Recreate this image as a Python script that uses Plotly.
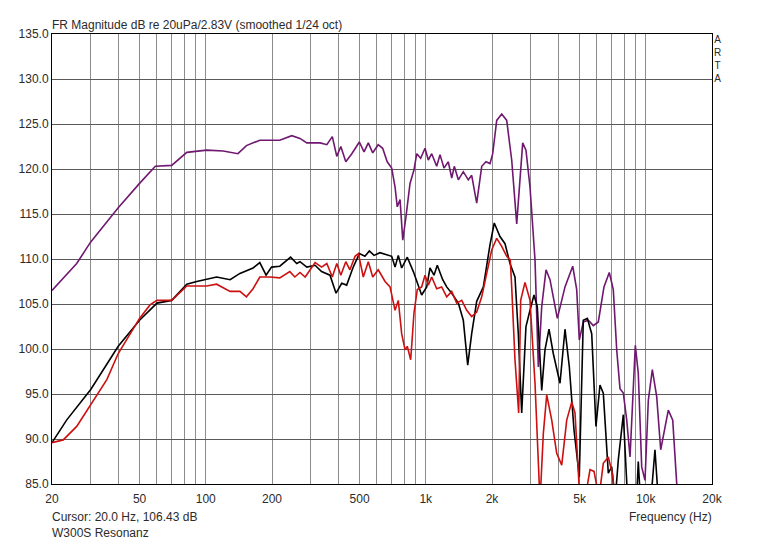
import plotly.graph_objects as go

# ARTA frequency response, W300S woofer
purple_freq = [20, 25.9, 30, 40, 50, 59, 70, 82, 101, 120, 140, 153, 176, 217, 246, 268, 288,
               331, 355, 376, 394, 411, 433, 461, 499, 524, 548, 574, 608, 637, 668, 700, 725,
               742, 764, 786, 813, 848, 884, 910, 948, 992, 1027, 1064, 1121, 1161, 1210, 1266,
               1312, 1348, 1406, 1481, 1561, 1617, 1704, 1796, 1878, 1959, 2015, 2101, 2214,
               2333, 2458, 2590, 2758, 2854, 2977, 3137, 3248, 3365, 3520, 3670, 3963, 4294,
               4655, 4853, 4987, 5200, 5480, 5774, 6084, 6457, 6827, 7118, 7377, 7636, 7906,
               8193, 8481, 8722, 8964, 9247, 9583, 9921, 10270, 10710, 11210, 11690, 12100,
               12660, 13260, 13820, 14310]
purple_db = [106.5, 109.5, 111.9, 115.7, 118.4, 120.3, 120.4, 121.85, 122.1, 122.0, 121.7, 122.6,
             123.2, 123.2, 123.7, 123.4, 122.9, 122.9, 122.7, 123.6, 121.4, 122.5, 120.8, 121.7,
             123.0, 121.9, 122.9, 121.8, 122.7, 122.3, 120.8, 120.1, 118.0, 115.8, 116.6, 112.1,
             114.7, 118.4, 119.9, 121.7, 121.2, 122.3, 121.0, 121.7, 120.3, 121.6, 120.1, 120.8,
             119.0, 120.3, 118.8, 119.7, 118.8, 119.3, 116.2, 120.3, 120.8, 120.6, 121.7, 125.4,
             126.1, 125.4, 121.0, 113.9, 122.9, 122.1, 118.0, 109.9, 98.0, 104.7, 108.8, 107.7,
             103.4, 106.9, 109.2, 106.6, 101.0, 103.0, 103.2, 102.6, 103.0, 106.9, 108.5, 106.6,
             99.9, 95.6, 95.1, 92.1, 88.0, 94.3, 100.4, 97.3, 86.9, 85.4, 94.3, 97.7, 94.7, 88.8,
             90.6, 93.2, 92.1, 85.1, 82.0]

black_freq = [20, 23.3, 30, 40, 50, 60, 70, 82, 91, 112, 129, 143, 164, 176, 188, 199, 217, 243,
              259, 268, 288, 314, 336, 367, 391, 415, 437, 468, 499, 529, 554, 582, 619, 700,
              725, 750, 777, 824, 878, 925, 958, 1010, 1045, 1090, 1128, 1194, 1245, 1312, 1406,
              1481, 1551, 1617, 1704, 1827, 1959, 2048, 2174, 2292, 2414, 2544, 2634, 2729, 2854,
              2977, 3104, 3213, 3365, 3482, 3632, 3798, 4075, 4294, 4493, 4718, 4987, 5200, 5423,
              5679, 5938, 6192, 6411, 6756, 7002, 7246, 7503, 7906, 8278, 8660, 9028, 9247, 9512,
              10450, 11010, 11490]
black_db = [89.6, 92.1, 95.5, 100.3, 103.2, 105.1, 105.4, 107.2, 107.5, 108.0, 107.7, 108.4, 109.0,
            109.6, 108.2, 109.1, 109.2, 110.2, 109.5, 109.7, 109.1, 109.3, 108.6, 108.2, 106.2,
            107.3, 107.1, 109.1, 110.6, 110.3, 110.9, 110.4, 110.7, 110.3, 109.1, 110.4, 109.0,
            110.2, 108.6, 106.9, 106.0, 106.9, 109.0, 108.2, 109.3, 107.7, 106.9, 106.2, 105.1,
            103.2, 98.2, 101.7, 105.3, 106.9, 111.6, 114.0, 112.5, 111.7, 109.5, 108.0, 101.7,
            92.9, 102.5, 104.3, 106.0, 104.7, 95.4, 99.9, 102.2, 99.5, 96.2, 102.2, 98.0, 91.0,
            85.8, 103.2, 103.4, 101.7, 91.4, 96.0, 95.1, 86.2, 86.9, 83.0, 87.7, 92.7, 83.0, 82.0,
            82.0, 87.5, 82.0, 82.0, 88.8, 82.0]

red_freq = [20, 22.5, 25.9, 30, 35.5, 40, 45.2, 50, 55.8, 60, 70, 82, 101, 112, 129, 143, 153,
            164, 176, 196, 217, 241, 254, 268, 283, 295, 314, 336, 355, 376, 394, 411, 433, 452,
            477, 494, 520, 548, 574, 608, 653, 688, 725, 750, 777, 805, 824, 854, 884, 915, 958,
            992, 1027, 1064, 1121, 1181, 1245, 1312, 1382, 1457, 1535, 1617, 1704, 1796, 1892,
            1994, 2101, 2214, 2333, 2422, 2458, 2544, 2644, 2700, 2825, 2977, 3137, 3306, 3422,
            3546, 3737, 3937, 4149, 4372, 4606, 4768, 5024, 5350, 5580, 5818, 6130, 6411, 6756,
            7074, 7322]
red_db = [89.6, 89.9, 91.4, 93.8, 96.6, 99.5, 101.7, 103.4, 104.9, 105.4, 105.4, 107.0, 107.0,
          107.2, 106.4, 106.4, 105.8, 106.7, 108.0, 108.0, 107.9, 108.6, 108.0, 108.5, 108.0,
          108.6, 109.6, 109.1, 109.5, 108.0, 109.5, 108.2, 109.7, 108.8, 110.3, 110.6, 108.0,
          109.7, 108.0, 108.8, 107.5, 106.9, 104.3, 105.4, 101.7, 99.9, 100.3, 98.8, 104.0,
          106.6, 106.9, 108.2, 107.1, 108.0, 106.7, 106.9, 105.8, 106.4, 105.1, 105.4, 104.3,
          103.6, 104.1, 105.8, 108.4, 111.0, 112.3, 111.4, 110.3, 109.9, 106.9, 98.8, 92.9,
          105.4, 107.4, 105.4, 96.2, 83.0, 90.6, 94.9, 92.1, 88.4, 87.1, 92.1, 94.1, 92.9, 83.0,
          84.0, 86.6, 86.4, 83.5, 87.3, 88.0, 86.0, 82.0]

grid_freqs = [20, 30, 40, 50, 60, 70, 80, 90, 100, 200, 300, 400, 500, 600, 700, 800, 900,
              1000, 2000, 3000, 4000, 5000, 6000, 7000, 8000, 9000, 10000, 20000]
labelled = {20: "20", 50: "50", 100: "100", 200: "200", 500: "500", 1000: "1k",
            2000: "2k", 5000: "5k", 10000: "10k", 20000: "20k"}
tick_text = [labelled.get(f, "") for f in grid_freqs]

font_txt = dict(family="Liberation Sans, Arial, sans-serif", size=12, color="#2b2b2b")

fig = go.Figure()
fig.add_trace(go.Scatter(x=purple_freq, y=purple_db, mode="lines",
                         line=dict(color="#701870", width=1.6)))
fig.add_trace(go.Scatter(x=black_freq, y=black_db, mode="lines",
                         line=dict(color="#000000", width=1.6)))
fig.add_trace(go.Scatter(x=red_freq, y=red_db, mode="lines",
                         line=dict(color="#cc1010", width=1.6)))

fig.update_xaxes(type="log", range=[1.30103, 4.30103], tickvals=grid_freqs, ticktext=tick_text,
                 showgrid=True, gridcolor="#8c8c8c", gridwidth=1, ticks="",
                 ticklabelstandoff=4,
                 showline=True, linecolor="black", linewidth=1, mirror=True,
                 tickfont=font_txt, zeroline=False)
fig.update_yaxes(range=[85, 135], dtick=5, tick0=85, tickformat=".1f",
                 showgrid=True, gridcolor="#5a5a5a", gridwidth=1, ticks="",
                 showline=True, linecolor="black", linewidth=1, mirror=True,
                 tickfont=font_txt, zeroline=False)

fig.add_annotation(text="FR Magnitude dB re 20uPa/2.83V (smoothed 1/24 oct)",
                   xref="paper", yref="paper", x=0, y=1, xanchor="left", yanchor="bottom",
                   showarrow=False, font=font_txt, xshift=-2)
fig.add_annotation(text="A<br>R<br>T<br>A", xref="paper", yref="paper", x=1, y=(484 - 59.5) / 450,
                   xanchor="left", yanchor="middle", showarrow=False, xshift=0,
                   font=dict(family="Liberation Sans, Arial, sans-serif", size=10, color="#2b2b2b"))
fig.add_annotation(text="Cursor: 20.0 Hz, 106.43 dB", xref="paper", yref="paper",
                   x=0, y=(484 - 516.5) / 450, xanchor="left", yanchor="middle",
                   showarrow=False, font=font_txt, xshift=-2)
fig.add_annotation(text="W300S Resonanz", xref="paper", yref="paper",
                   x=0, y=(484 - 533) / 450, xanchor="left", yanchor="middle",
                   showarrow=False, font=font_txt, xshift=-2)
fig.add_annotation(text="Frequency (Hz)", xref="paper", yref="paper",
                   x=1, y=(484 - 516.5) / 450, xanchor="right", yanchor="middle",
                   showarrow=False, font=font_txt, xshift=2)

# the page sits 8px in from the window corner, so margins are shifted to match
fig.update_layout(width=764, height=543, showlegend=False,
                  paper_bgcolor="white", plot_bgcolor="white",
                  margin=dict(l=44, r=60, t=26, b=67))

fig.write_html("out.html")
